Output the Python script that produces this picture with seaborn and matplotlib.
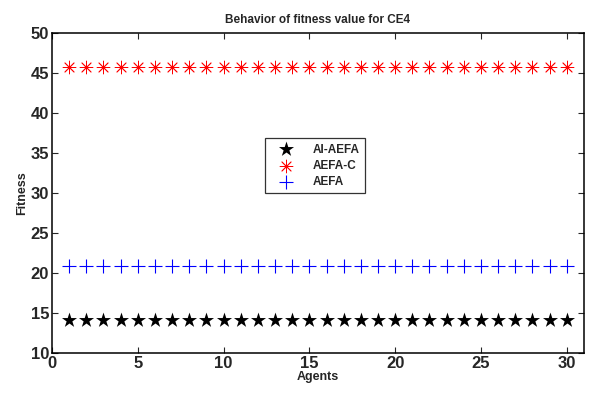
import numpy as np
import pandas as pd
import matplotlib
matplotlib.use("Agg")
import matplotlib.pyplot as plt
import seaborn as sns

# data
agents = list(range(1, 31))
ai_aefa = [14.15] * 30
aefa_c = [45.8] * 30
aefa = [20.9] * 30

sns.set_style("ticks")
plt.rcParams['font.family'] = ['Liberation Sans', 'DejaVu Sans']
plt.rcParams['font.weight'] = 'bold'

df = pd.DataFrame({
    'Agents': agents * 3,
    'Fitness': ai_aefa + aefa_c + aefa,
    'Method': ['AI-AEFA'] * 30 + ['AEFA-C'] * 30 + ['AEFA'] * 30,
})

fig = plt.figure(figsize=(5.91, 3.95), dpi=100)
ax = fig.add_axes([0.088, 0.106, 0.9, 0.81])

styles = {
    'AI-AEFA': dict(marker='*', color='black', s=130, linewidth=0),
    'AEFA-C': dict(marker=(8, 2, 0), color='red', s=85, linewidth=0.6),
    'AEFA': dict(marker='+', color='blue', s=90, linewidth=0.8),
}
for name, kw in styles.items():
    sub = df[df['Method'] == name]
    sns.scatterplot(data=sub, x='Agents', y='Fitness', ax=ax, label=name,
                    edgecolor=kw['color'], **kw)

ax.set_xlim(0, 31)
ax.set_ylim(10, 50)
ax.set_xticks(range(0, 31, 5))
ax.set_yticks(range(10, 51, 5))
ax.tick_params(direction='in', top=True, right=True, labelsize=12, length=4, width=0.8, pad=2)
for lab in ax.get_xticklabels() + ax.get_yticklabels():
    lab.set_fontweight('bold')
for sp in ax.spines.values():
    sp.set_visible(True)
    sp.set_linewidth(1.1)
    sp.set_color('black')

ax.set_xlabel('Agents', fontsize=9, fontweight='bold', labelpad=0)
ax.set_ylabel('Fitness', fontsize=9, fontweight='bold', labelpad=2)
ax.set_title('Behavior of fitness value for CE4', fontsize=8.5, fontweight='bold', pad=7)

leg = ax.legend(loc='upper left', bbox_to_anchor=(0.39, 0.69), fontsize=8.5,
                frameon=True, fancybox=False, edgecolor='black',
                borderpad=0.45, handletextpad=1.0, labelspacing=0.35,
                handlelength=2.6)
leg.get_frame().set_linewidth(0.9)
for t in leg.get_texts():
    t.set_fontweight('bold')

fig.savefig('out.png', dpi=100)
